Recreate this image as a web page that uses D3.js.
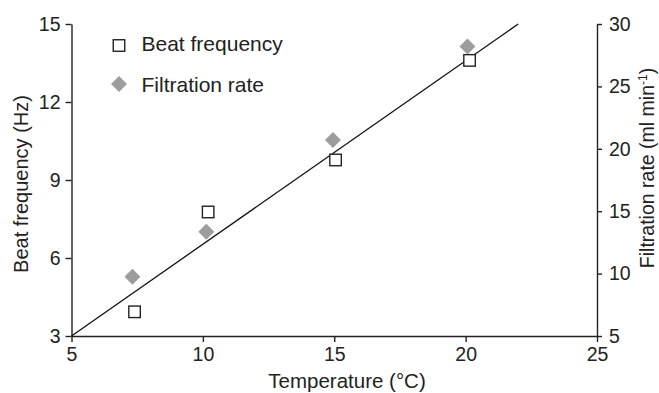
<!DOCTYPE html>
<html>
<head>
<meta charset="utf-8">
<script src="https://cdn.jsdelivr.net/npm/d3@7"></script>
<style>
  body { margin: 0; background: #fff; }
  svg text { font-family: "Liberation Sans", Arial, Helvetica, sans-serif; fill: #222; }
</style>
</head>
<body>
<svg width="659" height="393"></svg>
<script>
// beat frequency (open squares, left axis)
const beatTemps = [7.4, 10.2, 15.05, 20.15];
const beatFreq = [3.93, 7.77, 9.77, 13.6];

// filtration rate (grey diamonds, right axis)
const filtTemps = [7.32, 10.13, 14.95, 20.07];
const filtRate = [9.75, 13.35, 20.7, 28.2];

// fitted line, in beat frequency units
const fitTemps = [5, 22];
const fitFreq = [3, 15];

const xTicks = [5, 10, 15, 20, 25];
const yLeftTicks = [3, 6, 9, 12, 15];
const yRightTicks = [5, 10, 15, 20, 25, 30];

const margin = { top: 24, bottom: 57, left: 71.5, right: 62 };
const width = 659;
const height = 393;

const svg = d3.select("svg");

const xScale = d3.scaleLinear()
  .domain([5, 25])
  .range([margin.left, width - margin.right]);
const yLeft = d3.scaleLinear()
  .domain([3, 15])
  .range([height - margin.bottom, margin.top]);
const yRight = d3.scaleLinear()
  .domain([5, 30])
  .range([height - margin.bottom, margin.top]);

// axes
const xAxis = d3.axisBottom(xScale).tickValues(xTicks).tickSize(6).tickSizeOuter(0).tickPadding(5);
const leftAxis = d3.axisLeft(yLeft).tickValues(yLeftTicks).tickSize(6).tickSizeOuter(0).tickPadding(5);
const rightAxis = d3.axisRight(yRight).tickValues(yRightTicks).tickSize(5).tickSizeOuter(0).tickPadding(7);

function styleAxis(g) {
  g.selectAll("path, line").attr("stroke", "#222").attr("stroke-width", 1.4);
  g.selectAll("text").attr("font-size", "19.5px").attr("fill", "#222")
    .style("font-family", "'Liberation Sans', Arial, sans-serif");
}

svg.append("g")
  .attr("transform", `translate(0, ${height - margin.bottom})`)
  .call(xAxis)
  .call(styleAxis);
svg.append("g")
  .attr("transform", `translate(${margin.left}, 0)`)
  .call(leftAxis)
  .call(styleAxis);
svg.append("g")
  .attr("transform", `translate(${width - margin.right}, 0)`)
  .call(rightAxis)
  .call(styleAxis);

// axis titles
svg.append("text")
  .attr("x", 347)
  .attr("y", 388)
  .attr("text-anchor", "middle")
  .attr("font-size", "20.5px")
  .text("Temperature (°C)");

svg.append("text")
  .attr("transform", `translate(28, ${(yLeft(3) + yLeft(15)) / 2 + 4}) rotate(-90)`)
  .attr("text-anchor", "middle")
  .attr("font-size", "20px")
  .text("Beat frequency (Hz)");

const rightTitle = svg.append("text")
  .attr("transform", `translate(654, 168) rotate(-90)`)
  .attr("text-anchor", "middle")
  .attr("font-size", "19.5px");
rightTitle.append("tspan").text("Filtration rate (ml min");
rightTitle.append("tspan").attr("dy", -7).attr("font-size", "12px").text("-1");
rightTitle.append("tspan").attr("dy", 7).text(")");

// fitted line
const line = d3.line()
  .x(d => xScale(d[0]))
  .y(d => yLeft(d[1]));
svg.append("path")
  .datum(fitTemps.map((t, i) => [t, fitFreq[i]]))
  .attr("d", line)
  .attr("fill", "none")
  .attr("stroke", "#111")
  .attr("stroke-width", 1.3);

// markers
const diamond = d3.symbol().type(d3.symbolSquare).size(128);
const sq = 11.5;

svg.append("g")
  .selectAll("path")
  .data(filtTemps.map((t, i) => ({ t, v: filtRate[i] })))
  .join("path")
  .attr("d", diamond)
  .attr("transform", d => `translate(${xScale(d.t)}, ${yRight(d.v)}) rotate(45)`)
  .attr("fill", "#9d9d9d");

svg.append("g")
  .selectAll("rect")
  .data(beatTemps.map((t, i) => ({ t, v: beatFreq[i] })))
  .join("rect")
  .attr("x", d => xScale(d.t) - sq / 2)
  .attr("y", d => yLeft(d.v) - sq / 2)
  .attr("width", sq)
  .attr("height", sq)
  .attr("fill", "#fff")
  .attr("stroke", "#222")
  .attr("stroke-width", 1.4);

// legend
const legend = svg.append("g");
legend.append("rect")
  .attr("x", 119 - sq / 2)
  .attr("y", 45.5 - sq / 2)
  .attr("width", sq)
  .attr("height", sq)
  .attr("fill", "#fff")
  .attr("stroke", "#222")
  .attr("stroke-width", 1.4);
legend.append("text")
  .attr("x", 141.5)
  .attr("y", 51)
  .attr("font-size", "21px")
  .text("Beat frequency");
legend.append("path")
  .attr("d", diamond)
  .attr("transform", "translate(119, 84) rotate(45)")
  .attr("fill", "#9d9d9d");
legend.append("text")
  .attr("x", 141.5)
  .attr("y", 91.5)
  .attr("font-size", "21px")
  .text("Filtration rate");
</script>
</body>
</html>
